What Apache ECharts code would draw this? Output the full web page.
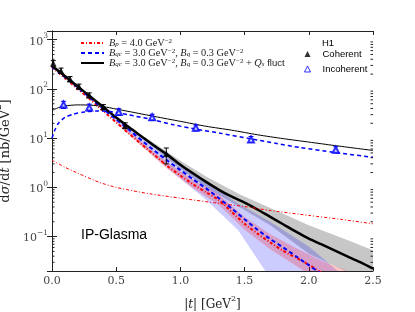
<!DOCTYPE html>
<html><head><meta charset="utf-8">
<script src="https://cdn.jsdelivr.net/npm/echarts@6/dist/echarts.min.js"></script>
<style>html,body{margin:0;padding:0;background:#fff}#c{width:415px;height:312px}</style>
</head><body><div id="c"></div>
<script>
// ---- Data ----
const tCoh = [0,0.1,0.2,0.3,0.4,0.5,0.6,0.7,0.8,0.9,1.0,1.1,1.2,1.3,1.4,1.5,1.6,1.7,1.8,1.9,2.0,2.1,2.2,2.3,2.4,2.5];
const cohFluct = [295,182,112,69.2,42.7,26.3,16.6,10.7,6.92,4.57,2.88,1.91,1.29,0.891,0.646,0.490,0.355,0.251,0.178,0.126,0.0912,0.0692,0.0525,0.0398,0.0302,0.0224];
const cohBqc = [282,174,107,64.6,38.9,24.0,14.8,8.91,5.50,3.47,2.24,1.45,0.955,0.603,0.372,0.224,0.138,0.0891,0.0603,0.0398,0.0263,0.0174];
const cohBp = [275,166,100,60.3,35.5,20.9,12.3,7.41,4.47,2.69,1.74,1.15,0.794,0.550,0.316,0.182,0.115,0.0759,0.0513,0.0372,0.0269,0.0182];

const tIncFluct = [0,0.05,0.1,0.2,0.3,0.4,0.5,0.6,0.8,1.0,1.2,1.4,1.6,1.8,2.0,2.2,2.5];
const incFluct = [36.3,41.7,45.2,47.3,46.8,43.7,38.9,34.7,27.5,21.9,17.4,14.5,11.7,9.77,8.32,7.08,5.62];
const tIncBqc = [0,0.02,0.05,0.1,0.17,0.25,0.35,0.45,0.6,0.76,0.95,1.13,1.31,1.54,1.75,1.93,2.2,2.5];
const incBqc = [10.0,14.1,20.0,26.3,30.9,33.9,35.5,34.7,29.5,24.5,18.6,15.1,12.6,9.77,7.76,6.46,5.13,4.07];
const tIncBp = [0,0.1,0.2,0.37,0.5,0.63,0.76,1.0,1.31,1.5,1.7,2.0,2.25,2.5];
const incBp = [3.55,2.57,1.95,1.26,1.0,0.851,0.741,0.603,0.468,0.407,0.339,0.269,0.224,0.182];

// uncertainty bands (coherent)
const tBandFluct = [0.7,0.8,1.0,1.2,1.46,1.7,2.0,2.3,2.5];
const bandFluctHi = [11.5,7.76,3.47,1.66,0.724,0.380,0.170,0.0851,0.0525];
const bandFluctLo = [10.0,6.17,2.40,1.0,0.398,0.170,0.0447,0.0191,0.0100];
const tBandBqc = [0.45,0.6,0.8,1.0,1.2,1.45,1.7,2.0,2.25];
const bandBqcHi = [31.6,16.6,6.61,2.88,1.26,0.468,0.200,0.0631,0.0178];
const bandBqcLo = [28.8,12.6,4.17,1.51,0.562,0.135,0.0141,0.0050,0.0025];
const tBandBp = [0.5,0.7,0.9,1.1,1.3,1.5,1.7,1.9,2.1,2.3];
const bandBpHi = [21.9,8.32,3.16,1.41,0.708,0.251,0.112,0.0589,0.0324,0.0200];
const bandBpLo = [20.0,6.76,2.34,0.955,0.437,0.138,0.0550,0.0257,0.0115,0.0056];

// H1 data
const tH1Coh = [0.01,0.07,0.14,0.21,0.29,0.40,0.57,0.89];
const h1Coh = [331,234,158,112,74,43,17.8,4.8];
const h1CohLo = [290,205,140,100,66,38,15.5,3.0];
const h1CohHi = [375,265,178,125,83,48,20.5,6.3];
const tH1Inc = [0.09,0.29,0.52,0.78,1.12,1.55,2.21];
const h1Inc = [48,42,34,26.5,16.2,9.4,5.8];
const h1IncLo = [40,35.5,29,23,14,8.2,5.0];
const h1IncHi = [56,49,39.5,30.5,18.5,10.8,6.7];

const xTicks = ['0.0','0.5','1.0','1.5','2.0','2.5'];

// ---- helpers ----
const pairs = (ts, vs) => vs.map((v, i) => [ts[i], v]);
const SERIF = 'DejaVu Serif';
const LSERIF = 'Liberation Serif';
const SANS = 'Liberation Sans';

function band(ts, hi, lo, fill) {
  return {
    type: 'custom', silent: true, clip: true, z: 1,
    data: ts.map((t, i) => [t, hi[i], lo[i]]),
    encode: { x: 0, y: [1, 2] },
    renderItem(params, api) {
      if (params.dataIndex !== 0) return null;
      const pts = [];
      for (let i = 0; i < ts.length; i++) pts.push(api.coord([ts[i], hi[i]]));
      for (let i = ts.length - 1; i >= 0; i--) pts.push(api.coord([ts[i], lo[i]]));
      const cs = params.coordSys;
      return { type: 'polygon', shape: { points: pts }, style: { fill: fill },
        clipPath: { type: 'rect', shape: { x: cs.x, y: cs.y, width: cs.width, height: cs.height } } };
    }
  };
}
function errBars(ts, vs, lo, hi, color) {
  return {
    type: 'custom', silent: true, z: 5,
    data: ts.map((t, i) => [t, vs[i], lo[i], hi[i]]),
    encode: { x: 0, y: [1, 2, 3] },
    renderItem(params, api) {
      const x = api.value(0);
      const p1 = api.coord([x, api.value(2)]), p2 = api.coord([x, api.value(3)]);
      const w = 2.5, st = { stroke: color, lineWidth: 1 };
      return { type: 'group', children: [
        { type: 'line', shape: { x1: p1[0], y1: p1[1], x2: p2[0], y2: p2[1] }, style: st },
        { type: 'line', shape: { x1: p1[0] - w, y1: p1[1], x2: p1[0] + w, y2: p1[1] }, style: st },
        { type: 'line', shape: { x1: p2[0] - w, y1: p2[1], x2: p2[0] + w, y2: p2[1] }, style: st }
      ]};
    }
  };
}
function line(name, ts, vs, color, width, type) {
  return { type: 'line', name: name, data: pairs(ts, vs), showSymbol: false, symbol: 'none',
    smooth: 0.25, z: 3, lineStyle: { color: color, width: width, type: type }, itemStyle: { color: color },
    emphasis: { disabled: true } };
}

// log-minor tick positions on the y axis (2..9 x decade)
const minorVals = [];
[-2, -1, 0, 1, 2, 3].forEach(e => { for (let k = 2; k <= 9; k++) { const v = k * Math.pow(10, e); if (v > 0.02 && v < 1500) minorVals.push(v); } });

const FS = 10.3;
const legRich = {
  n: { fontFamily: LSERIF, fontSize: FS, color: '#222', lineHeight: 10 },
  i: { fontFamily: LSERIF, fontStyle: 'italic', fontSize: FS, color: '#222', lineHeight: 10 },
  b: { fontFamily: LSERIF, fontStyle: 'italic', fontSize: 7, color: '#222', verticalAlign: 'bottom' },
  s: { fontFamily: LSERIF, fontSize: 7, color: '#222', verticalAlign: 'top' },
  f: { fontFamily: SANS, fontSize: 9.5, color: '#222', lineHeight: 10 }
};
const legLabels = {
  'Bp': '{i|B}{b|p}{n| = 4.0 GeV}{s|−2}',
  'Bqc': '{i|B}{b|qc}{n| = 3.0 GeV}{s|−2}{n|, }{i|B}{b|q}{n| = 0.3 GeV}{s|−2}',
  'Fluct': '{i|B}{b|qc}{n| = 3.0 GeV}{s|−2}{n|, }{i|B}{b|q}{n| = 0.3 GeV}{s|−2}{n| + }{i|Q}{b|s}{f| fluct}'
};

const chart = echarts.init(document.getElementById('c'), null, { renderer: 'canvas' });
const axisLineStyle = { color: '#222', width: 1 };
const labelRich = {
  b: { fontFamily: SERIF, fontSize: 11, color: '#444', lineHeight: 15, verticalAlign: 'bottom' },
  s: { fontFamily: SERIF, fontSize: 7.5, color: '#444', verticalAlign: 'top' }
};
chart.setOption({
  animation: false,
  backgroundColor: '#fff',
  grid: { left: 52, right: 42, top: 31, bottom: 41, containLabel: false, outerBoundsMode: 'none' },
  title: [
    { text: 'IP-Glasma', left: 76, top: 223, textStyle: { fontFamily: SANS, fontSize: 14, fontWeight: 'normal', color: '#000' } },
    { text: 'H1', left: 322, top: 38, padding: 0, textStyle: { fontFamily: SANS, fontSize: 9.5, fontWeight: 'normal', color: '#000' } }
  ],
  legend: [
    { data: ['Bp', 'Bqc', 'Fluct'], orient: 'vertical', left: 80, top: 38, itemWidth: 23, itemHeight: 8, itemGap: 0, padding: 0,
      selectedMode: false, itemStyle: { opacity: 0 }, formatter: n => legLabels[n], textStyle: { rich: legRich, fontSize: FS } },
    { data: [
        { name: 'Coherent', icon: 'triangle', itemStyle: { color: '#000' } },
        { name: 'Incoherent', icon: 'triangle', itemStyle: { color: '#fff', borderColor: '#0000ff', borderWidth: 1 } } ],
      orient: 'vertical', left: 304, top: 48, itemWidth: 6, itemHeight: 6, itemGap: 3, padding: 0,
      selectedMode: false, formatter: n => '{g|}{t|' + n + '}',
      textStyle: { rich: { g: { width: 7 }, t: { fontFamily: SANS, fontSize: 9.5, color: '#000' } } } }
  ],
  xAxis: [
    { type: 'value', min: 0, max: 2.5, interval: 0.5, position: 'bottom',
      axisLine: { show: true, lineStyle: axisLineStyle }, axisTick: { show: true, inside: true, length: 4, lineStyle: axisLineStyle },
      splitLine: { show: false },
      axisLabel: { margin: 5, fontFamily: SERIF, fontSize: 11, color: '#444', formatter: v => xTicks[Math.round(v / 0.5)] },
      name: '{n||}{i|t}{n|| [GeV}{s|2}{n|]}', nameLocation: 'middle', nameGap: 24,
      nameTextStyle: { rich: {
        n: { fontFamily: SERIF, fontSize: 12, color: '#222', lineHeight: 16, verticalAlign: 'bottom' },
        i: { fontFamily: SERIF, fontStyle: 'italic', fontSize: 12, color: '#222', lineHeight: 16, verticalAlign: 'bottom' },
        s: { fontFamily: SERIF, fontSize: 8, color: '#222', verticalAlign: 'top' } } } },
    { type: 'value', min: 0, max: 2.5, interval: 0.5, position: 'top',
      axisLine: { show: true, lineStyle: axisLineStyle }, axisTick: { show: true, inside: true, length: 4, lineStyle: axisLineStyle },
      axisLabel: { show: false }, splitLine: { show: false } }
  ],
  yAxis: [
    { type: 'log', logBase: 10, min: 0.02, max: 1500, position: 'left',
      axisLine: { show: true, lineStyle: axisLineStyle }, axisTick: { show: true, inside: true, length: 5, lineStyle: axisLineStyle },
      splitLine: { show: false }, minorTick: { show: false },
      axisLabel: { margin: 4, showMinLabel: false, showMaxLabel: false, rich: labelRich,
        formatter: v => { const e = Math.round(Math.log10(v)); if (Math.abs(Math.log10(v) - e) > 1e-6) return ''; return '{b|10}{s|' + (e < 0 ? '−' + (-e) : e) + '}'; } },
      name: '{n|d}{i|σ}{n|/d}{i|t}{n| [nb/GeV}{s|2}{n|]}', nameLocation: 'middle', nameGap: 30, nameRotate: 90,
      nameTextStyle: { rich: {
        n: { fontFamily: SERIF, fontSize: 13, color: '#222', lineHeight: 18, verticalAlign: 'bottom' },
        i: { fontFamily: SERIF, fontStyle: 'italic', fontSize: 13, color: '#222', lineHeight: 18, verticalAlign: 'bottom' },
        s: { fontFamily: SERIF, fontSize: 8.5, color: '#222', verticalAlign: 'top' } } } },
    { type: 'log', logBase: 10, min: 0.02, max: 1500, position: 'right',
      axisLine: { show: true, lineStyle: axisLineStyle }, axisTick: { show: true, inside: true, length: 5, lineStyle: axisLineStyle },
      axisLabel: { show: false }, splitLine: { show: false } }
  ],
  series: [
    band(tBandFluct, bandFluctHi, bandFluctLo, 'rgba(0,0,0,0.22)'),
    band(tBandBqc, bandBqcHi, bandBqcLo, 'rgba(0,0,255,0.2)'),
    band(tBandBp, bandBpHi, bandBpLo, 'rgba(255,0,0,0.22)'),
    line('Bp', tCoh, cohBp, '#ff0000', 2, [3, 2, 1, 2]),
    line('Bqc', tCoh, cohBqc, '#0000ff', 2, [4, 3]),
    line('Fluct', tCoh, cohFluct, '#000000', 2.5, 'solid'),
    line('Bp_inc', tIncBp, incBp, '#ff0000', 1, [3, 2, 1, 2]),
    line('Bqc_inc', tIncBqc, incBqc, '#0000ff', 1.5, [4, 3]),
    line('Fluct_inc', tIncFluct, incFluct, '#000000', 1, 'solid'),
    errBars(tH1Coh, h1Coh, h1CohLo, h1CohHi, '#000'),
    errBars(tH1Inc, h1Inc, h1IncLo, h1IncHi, '#0000ff'),
    { type: 'scatter', name: 'Coherent', data: pairs(tH1Coh, h1Coh), symbol: 'triangle', symbolSize: 6.5, z: 6,
      itemStyle: { color: '#000' }, emphasis: { disabled: true } },
    { type: 'scatter', name: 'Incoherent', data: pairs(tH1Inc, h1Inc), symbol: 'emptyTriangle', symbolSize: 6, z: 6,
      itemStyle: { color: '#0000ff', borderColor: '#0000ff', borderWidth: 1 }, emphasis: { disabled: true } },
    { type: 'custom', silent: true, z: 7, data: minorVals.map(v => [0, v]), encode: { x: 0, y: 1 },
      renderItem(params, api) {
        const cs = params.coordSys; const y = api.coord([0, api.value(1)])[1];
        const st = { stroke: '#222', lineWidth: 1 };
        return { type: 'group', children: [
          { type: 'line', shape: { x1: cs.x, y1: y, x2: cs.x + 2.5, y2: y }, style: st },
          { type: 'line', shape: { x1: cs.x + cs.width - 2.5, y1: y, x2: cs.x + cs.width, y2: y }, style: st } ] };
      } }
  ]
});
</script></body></html>
